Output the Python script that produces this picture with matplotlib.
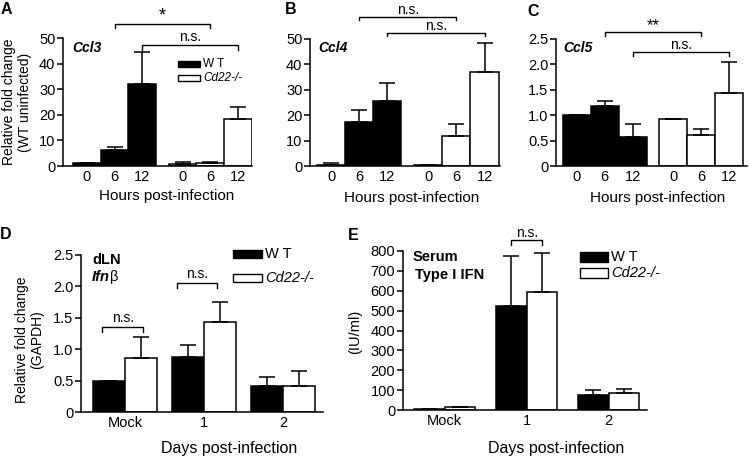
import numpy as np
import matplotlib
matplotlib.use("Agg")
import matplotlib.pyplot as plt
from matplotlib.patches import Rectangle

plt.rcParams['font.family'] = ['Liberation Sans', 'DejaVu Sans']

W, H = 750, 457

# time course categories (hours) and infection days
hours = ['0', '6', '12']
days = ['Mock', '1', '2']

# Ccl3
ccl3_wt = [1.0, 6.3, 32.0]
ccl3_wt_err = [0.0, 1.1, 12.4]
ccl3_ko = [0.7, 1.0, 18.3]
ccl3_ko_err = [0.8, 0.4, 4.8]

# Ccl4
ccl4_wt = [0.5, 17.2, 25.7]
ccl4_wt_err = [0.6, 4.8, 7.1]
ccl4_ko = [0.3, 11.8, 37.1]
ccl4_ko_err = [0.2, 4.6, 11.5]

# Ccl5
ccl5_wt = [1.0, 1.18, 0.58]
ccl5_wt_err = [0.0, 0.09, 0.24]
ccl5_ko = [0.92, 0.62, 1.44]
ccl5_ko_err = [0.0, 0.10, 0.61]

# dLN Ifnb
ifnb_wt = [0.50, 0.87, 0.41]
ifnb_wt_err = [0.0, 0.19, 0.15]
ifnb_ko = [0.86, 1.44, 0.42]
ifnb_ko_err = [0.34, 0.31, 0.24]

# serum type I IFN
ifn_wt = [7, 522, 74]
ifn_wt_err = [0, 253, 25]
ifn_ko = [17, 592, 84]
ifn_ko_err = [0, 198, 20]

fig = plt.figure(figsize=(W / 100, H / 100), dpi=100)


def px(x, y):
    return x / W, 1 - y / H


def make_ax(left, right, top, bottom):
    ax = fig.add_axes([left / W, 1 - bottom / H, (right - left) / W, (bottom - top) / H])
    for s in ['top', 'right']:
        ax.spines[s].set_visible(False)
    for s in ['left', 'bottom']:
        ax.spines[s].set_linewidth(1.1)
    ax.tick_params(axis='y', direction='out', length=4, width=1.1, pad=1.5, labelsize=10.5)
    ax.tick_params(axis='x', length=0, pad=3, labelsize=10.5)
    return ax


def errbars(ax, x, y, err, cap):
    ax.errorbar(x, y, yerr=[np.zeros(len(err)), err], fmt='none', ecolor='black',
                elinewidth=1.1, capsize=cap, capthick=1.1, zorder=3)


def bracket(ax, x1, x2, y, drop, text, ty, size=10):
    ax.plot([x1, x1, x2, x2], [y - drop, y, y, y - drop], color='black', lw=1.0,
            clip_on=False)
    ax.text((x1 + x2) / 2, ty, text, ha='center', va='center', fontsize=size)


def time_panel(ax, wt, wt_err, ko, ko_err, xlim):
    x_wt = np.arange(3)
    x_ko = np.arange(3) + 3.45
    ax.bar(x_wt, wt, width=1, color='black', edgecolor='black', lw=1.1)
    ax.bar(x_ko, ko, width=1, color='white', edgecolor='black', lw=1.1)
    errbars(ax, x_wt, wt, wt_err, 5.5)
    errbars(ax, x_ko, ko, ko_err, 5.5)
    ax.set_xticks(list(x_wt) + list(x_ko))
    ax.set_xticklabels(hours + hours)
    ax.set_xlim(*xlim)


def day_panel(ax, wt, wt_err, ko, ko_err, width, xlim):
    x = np.arange(3)
    ax.bar(x - width / 2, wt, width=width, color='black', edgecolor='black', lw=1.1)
    ax.bar(x + width / 2, ko, width=width, color='white', edgecolor='black', lw=1.1)
    errbars(ax, x - width / 2, wt, wt_err, 6)
    errbars(ax, x + width / 2, ko, ko_err, 6)
    ax.set_xticks(x)
    ax.set_xticklabels(days)
    ax.set_xlim(*xlim)


def legend_box(x, y_top, w, h, y_gap, fs):
    for i, (fc, lab, st) in enumerate([('black', 'W T', 'normal'),
                                      ('white', 'Cd22-/-', 'italic')]):
        yy = y_top + i * y_gap
        fig.patches.append(Rectangle(px(x, yy + h), w / W, h / H, facecolor=fc,
                                     edgecolor='black', lw=1.0,
                                     transform=fig.transFigure))
        fig.text(*px(x + w + 3, yy + h / 2), lab, ha='left', va='center',
                 fontsize=fs, style=st)


# ---- A: Ccl3
axA = make_ax(63, 252, 38, 166)
time_panel(axA, ccl3_wt, ccl3_wt_err, ccl3_ko, ccl3_ko_err, (-0.86, 5.95))
axA.set_ylim(0, 50)
axA.set_yticks([0, 10, 20, 30, 40, 50])
bracket(axA, 1, 4.45, 55.5, 1.6, '*', 58.5, 13)
bracket(axA, 2, 5.45, 47.3, 1.8, 'n.s.', 50.2)
legend_box(178, 61, 22, 6, 14, 8.5)

# ---- B: Ccl4
axB = make_ax(310, 500, 39, 166)
time_panel(axB, ccl4_wt, ccl4_wt_err, ccl4_ko, ccl4_ko_err, (-0.75, 6.0))
axB.set_ylim(0, 50)
axB.set_yticks([0, 10, 20, 30, 40, 50])
bracket(axB, 1, 4.45, 58.7, 1.4, 'n.s.', 61.6)
bracket(axB, 2, 5.45, 52.4, 1.4, 'n.s.', 55.2)

# ---- C: Ccl5
axC = make_ax(556, 747, 39, 166)
time_panel(axC, ccl5_wt, ccl5_wt_err, ccl5_ko, ccl5_ko_err, (-0.75, 6.1))
axC.set_ylim(0, 2.5)
axC.set_yticks([0, 0.5, 1.0, 1.5, 2.0, 2.5])
axC.set_yticklabels(['0', '0.5', '1.0', '1.5', '2.0', '2.5'])
bracket(axC, 1, 4.45, 2.64, 0.08, '**', 2.76, 12)
bracket(axC, 2, 5.45, 2.24, 0.08, 'n.s.', 2.39)

# ---- D: dLN Ifnb
axD = make_ax(81, 323, 255, 412)
day_panel(axD, ifnb_wt, ifnb_wt_err, ifnb_ko, ifnb_ko_err, 0.405, (-0.56, 2.5))
axD.set_ylim(0, 2.5)
axD.set_yticks([0, 0.5, 1.0, 1.5, 2.0, 2.5])
axD.set_yticklabels(['0', '0.5', '1.0', '1.5', '2.0', '2.5'])
bracket(axD, -0.29, 0.23, 1.35, 0.08, 'n.s.', 1.50)
bracket(axD, 0.65, 1.16, 2.05, 0.08, 'n.s.', 2.19)
legend_box(233, 250, 29, 8, 24, 10.5)

# ---- E: serum type I IFN
axE = make_ax(403, 647, 251, 410)
day_panel(axE, ifn_wt, ifn_wt_err, ifn_ko, ifn_ko_err, 0.37, (-0.51, 2.47))
axE.set_ylim(0, 800)
axE.set_yticks(np.arange(0, 801, 100))
bracket(axE, 1 - 0.185, 1 + 0.185, 854, 25, 'n.s.', 893)
legend_box(580, 252, 28, 10, 16, 10.5)

# panel letters
for lab, (x, y) in zip('ABCDE', [(6, 9), (291, 10), (533, 11), (6, 234), (353, 235)]):
    fig.text(*px(x, y), lab, fontsize=11.5, fontweight='bold', ha='center', va='center')

# gene labels
fig.text(*px(72, 48), 'Ccl3', fontsize=10, fontweight='bold', style='italic', va='center')
fig.text(*px(318, 48), 'Ccl4', fontsize=10, fontweight='bold', style='italic', va='center')
fig.text(*px(563, 48), 'Ccl5', fontsize=10, fontweight='bold', style='italic', va='center')
fig.text(*px(92, 260), 'dLN', fontsize=10.5, fontweight='bold', va='center')
t_ifn = fig.text(*px(92, 281), 'Ifn', fontsize=10.5, fontweight='bold', style='italic',
                 va='baseline')
axD.annotate('\u03b2', xy=(1, 0), xycoords=t_ifn, xytext=(0.3, 0),
             textcoords='offset points', va='bottom', ha='left', fontsize=10.5)
fig.text(*px(413, 257), 'Serum', fontsize=10.5, fontweight='bold', va='center')
fig.text(*px(415, 275), 'Type I IFN', fontsize=10.5, fontweight='bold', va='center')

# axis labels
fig.text(*px(17, 102), 'Relative fold change\n(WT uninfected)', rotation=90,
         ha='center', va='center', fontsize=10, linespacing=1.1)
fig.text(*px(30, 340), 'Relative fold change\n(GAPDH)', rotation=90,
         ha='center', va='center', fontsize=10, linespacing=1.1)
fig.text(*px(355, 332), '(IU/ml)', rotation=90, ha='center', va='center', fontsize=10.5)
fig.text(*px(167, 196), 'Hours post-infection', ha='center', va='center', fontsize=11)
fig.text(*px(412, 198), 'Hours post-infection', ha='center', va='center', fontsize=11)
fig.text(*px(658, 198), 'Hours post-infection', ha='center', va='center', fontsize=11)
fig.text(*px(229, 448), 'Days post-infection', ha='center', va='center', fontsize=11.5)
fig.text(*px(556, 448), 'Days post-infection', ha='center', va='center', fontsize=11.5)

fig.savefig('out.png', dpi=100)
